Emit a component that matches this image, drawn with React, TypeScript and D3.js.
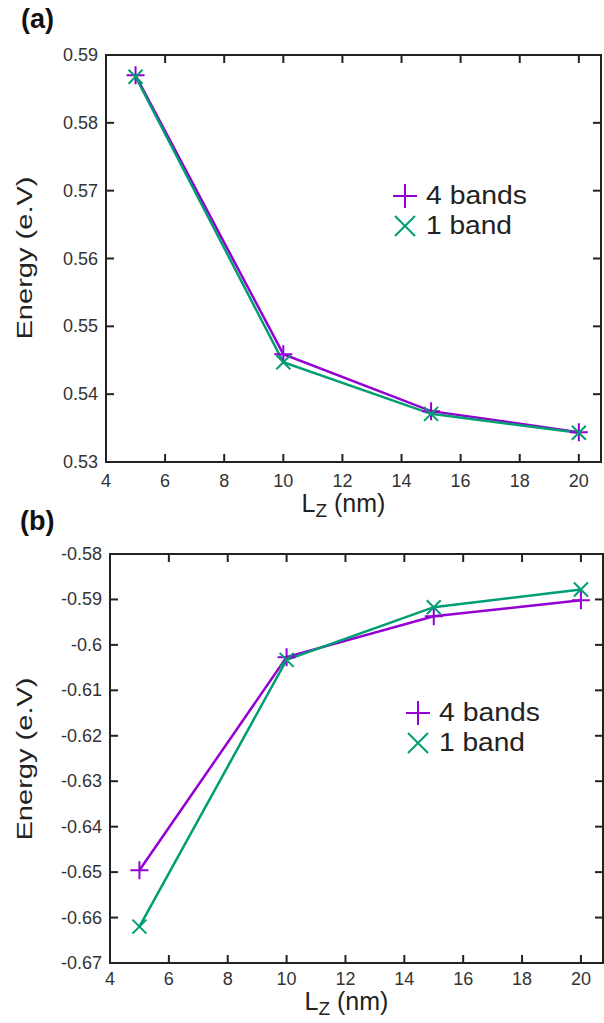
import { useEffect, useRef } from "react";
import * as d3 from "d3";

const lz = [5, 10, 15, 20];
const xTicks = [4, 6, 8, 10, 12, 14, 16, 18, 20];

// panel (a)
const aFourBands = [0.587, 0.5459, 0.5375, 0.5344];
const aOneBand = [0.5868, 0.5447, 0.5371, 0.5343];
const aYTicks = [0.53, 0.54, 0.55, 0.56, 0.57, 0.58, 0.59];

// panel (b)
const bFourBands = [-0.6496, -0.6027, -0.5937, -0.5902];
const bOneBand = [-0.662, -0.6033, -0.5917, -0.5878];
const bYTicks = [-0.67, -0.66, -0.65, -0.64, -0.63, -0.62, -0.61, -0.6, -0.59, -0.58];

const PURPLE = "#9400d3";
const GREEN = "#009e73";
const FONT = "'Liberation Sans', Arial, sans-serif";

export default function App() {
  const ref = useRef<SVGSVGElement>(null);

  useEffect(() => {
    const svg = d3.select(ref.current);
    svg.selectAll("*").remove();

    const drawPanel = (opts: any) => {
      const { left, right, top, bottom, yDomain, yTicks, s1, s2, label, labelPos, legendPos, yTitlePos, xTitleY, xLabelDy, fmt } = opts;
      const x = d3.scaleLinear().domain([4, 20.75]).range([left, right]);
      const y = d3.scaleLinear().domain(yDomain).range([bottom, top]);
      const g = svg.append("g");

      // frame
      g.append("rect")
        .attr("x", left).attr("y", top)
        .attr("width", right - left).attr("height", bottom - top)
        .attr("fill", "none").attr("stroke", "#222").attr("stroke-width", 2);

      const tl = 8;
      xTicks.forEach((t) => {
        g.append("line").attr("x1", x(t)).attr("x2", x(t)).attr("y1", bottom).attr("y2", bottom - tl)
          .attr("stroke", "#222").attr("stroke-width", 2);
        g.append("line").attr("x1", x(t)).attr("x2", x(t)).attr("y1", top).attr("y2", top + tl)
          .attr("stroke", "#222").attr("stroke-width", 2);
        g.append("text").attr("x", x(t)).attr("y", bottom + xLabelDy)
          .attr("text-anchor", "middle").attr("font-size", 18).attr("fill", "#333")
          .attr("font-family", FONT).text(t);
      });
      yTicks.forEach((t: number) => {
        g.append("line").attr("x1", left).attr("x2", left + tl).attr("y1", y(t)).attr("y2", y(t))
          .attr("stroke", "#222").attr("stroke-width", 2);
        g.append("line").attr("x1", right).attr("x2", right - tl).attr("y1", y(t)).attr("y2", y(t))
          .attr("stroke", "#222").attr("stroke-width", 2);
        g.append("text").attr("x", left - 8).attr("y", y(t) + 6)
          .attr("text-anchor", "end").attr("font-size", 18).attr("fill", "#333")
          .attr("font-family", FONT).text(fmt(t));
      });

      const line = d3.line<number>().x((_, i) => x(lz[i])).y((d) => y(d));
      g.append("path").attr("d", line(s1)).attr("fill", "none").attr("stroke", PURPLE).attr("stroke-width", 2.5);
      g.append("path").attr("d", line(s2)).attr("fill", "none").attr("stroke", GREEN).attr("stroke-width", 2.5);

      const plus = (cx: number, cy: number, r: number) => {
        g.append("path").attr("d", `M${cx - r},${cy}H${cx + r}M${cx},${cy - r}V${cy + r}`)
          .attr("stroke", PURPLE).attr("stroke-width", 2);
      };
      const cross = (cx: number, cy: number, r: number) => {
        g.append("path").attr("d", `M${cx - r},${cy - r}L${cx + r},${cy + r}M${cx - r},${cy + r}L${cx + r},${cy - r}`)
          .attr("stroke", GREEN).attr("stroke-width", 2);
      };
      s1.forEach((v: number, i: number) => plus(x(lz[i]), y(v), 9));
      s2.forEach((v: number, i: number) => cross(x(lz[i]), y(v), 7));

      // legend
      const [lx, ly] = legendPos;
      plus(lx, ly, 12);
      cross(lx, ly + 30, 10);
      g.append("text").attr("x", lx + 21).attr("y", ly + 8).attr("font-size", 25).attr("fill", "#222")
        .attr("font-family", FONT).attr("textLength", 101).attr("lengthAdjust", "spacingAndGlyphs").text("4 bands");
      g.append("text").attr("x", lx + 21).attr("y", ly + 38).attr("font-size", 25).attr("fill", "#222")
        .attr("font-family", FONT).attr("textLength", 86).attr("lengthAdjust", "spacingAndGlyphs").text("1 band");

      // titles
      g.append("text").attr("transform", `translate(${yTitlePos[0]},${yTitlePos[1]}) rotate(-90)`)
        .attr("text-anchor", "middle").attr("font-size", 22).attr("fill", "#222")
        .attr("textLength", 163).attr("lengthAdjust", "spacingAndGlyphs")
        .attr("font-family", FONT).text("Energy (e.V)");
      const xt = g.append("text").attr("x", (left + right) / 2 - 10).attr("y", xTitleY)
        .attr("text-anchor", "middle").attr("font-size", 25).attr("fill", "#222").attr("font-family", FONT);
      xt.append("tspan").text("L");
      xt.append("tspan").attr("font-size", 19).attr("dy", 5).text("Z");
      xt.append("tspan").attr("dy", -5).text(" (nm)");

      g.append("text").attr("x", labelPos[0]).attr("y", labelPos[1]).attr("font-size", 27)
        .attr("font-weight", "bold").attr("fill", "#111").attr("font-family", FONT).text(label);
    };

    drawPanel({
      left: 106, right: 601, top: 55, bottom: 462,
      yDomain: [0.53, 0.59], yTicks: aYTicks, s1: aFourBands, s2: aOneBand,
      label: "(a)", labelPos: [21, 28], legendPos: [405, 196], yTitlePos: [32, 258], xTitleY: 512, xLabelDy: 25,
      fmt: d3.format(".2f"),
    });
    drawPanel({
      left: 110, right: 603, top: 554, bottom: 963,
      yDomain: [-0.67, -0.58], yTicks: bYTicks, s1: bFourBands, s2: bOneBand,
      label: "(b)", labelPos: [20, 530], legendPos: [418, 713], yTitlePos: [32, 759], xTitleY: 1010, xLabelDy: 22,
      fmt: (v: number) => String(+v.toFixed(2)),
    });
  }, []);

  return (
    <svg ref={ref} width={604} height={1023} style={{ position: "absolute", left: 0, top: 0, background: "#fff" }} />
  );
}
